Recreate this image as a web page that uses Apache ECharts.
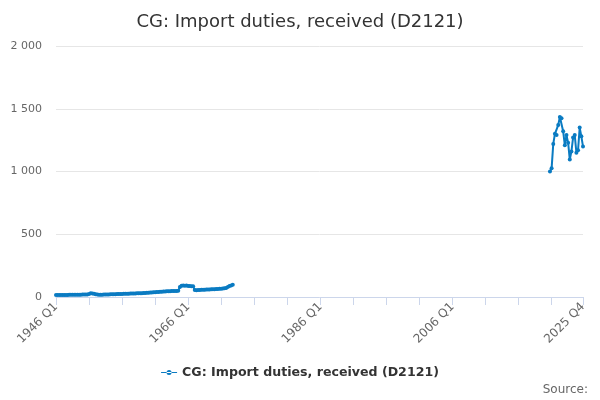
<!DOCTYPE html>
<html>
<head>
<meta charset="utf-8">
<script src="https://cdn.jsdelivr.net/npm/echarts@6/dist/echarts.min.js"></script>
<style>html,body{margin:0;padding:0;background:#fff}#c{width:600px;height:400px}</style>
</head>
<body>
<div id="c"></div>
<script>
const seriesName = 'CG: Import duties, received (D2121)';
const startYear = 1946, endYear = 2025;
// Early segment: 1946 Q1 .. 1972 Q4
const earlyValues = [
  15,15,15,15,16,16,16,16,17,17,17,17,18,18,18,18,19,19,20,20,
  24,30,28,26,
  22,20,18,18,18,19,19,20,
  20,21,21,22,22,23,23,24,24,25,25,26,26,27,27,28,
  28,29,29,30,30,31,32,33,34,35,36,37,38,39,40,41,
  42,43,44,45,46,46,47,47,48,48,49,
  80,90,92,90,92,88,88,86,86,
  55,54,55,56,57,58,58,59,60,60,61,62,62,63,64,65,
  66,68,70,72,80,88,92,98
];
// Late segment: 2020 Q4 .. 2025 Q4
const lateValues = [1000,1025,1220,1300,1290,1370,1435,1425,1320,1210,1290,1230,1095,1160,1270,1290,1150,1170,1350,1280,1200];
const lateStart = '2020 Q4';
const yTicks = [0, 500, 1000, 1500, 2000];

const categories = [];
for (let y = startYear; y <= endYear; y++) for (let q = 1; q <= 4; q++) categories.push(y + ' Q' + q);
const values = categories.map(() => null);
earlyValues.forEach((v, i) => values[i] = v);
const ls = categories.indexOf(lateStart);
lateValues.forEach((v, i) => values[ls + i] = v);
const lastIdx = categories.length - 1;

const chart = echarts.init(document.getElementById('c'), null, {renderer: 'canvas'});
const font = 'DejaVu Sans';
chart.setOption({
  animation: false,
  title: {
    text: seriesName, left: 'center', top: 8,
    textStyle: {fontFamily: font, fontSize: 18, fontWeight: 'normal', color: '#333'}
  },
  legend: {
    bottom: 16, left: 'center', itemWidth: 16, itemHeight: 8,
    icon: 'path://M0,3.5 L16,3.5 L16,4.5 L0,4.5 Z M5.5,4 A2.5,2.5 0 1 0 10.5,4 A2.5,2.5 0 1 0 5.5,4 Z',
    textStyle: {fontFamily: font, fontSize: 12.6, fontWeight: 'bold', color: '#333'}
  },
  graphic: [{
    type: 'text', right: 12, bottom: 4,
    style: {text: 'Source:', font: '12px ' + font, fill: '#666'}
  }],
  grid: {left: 56, right: 17, top: 46, bottom: 103},
  xAxis: {
    type: 'category', data: categories, boundaryGap: false,
    axisLine: {lineStyle: {color: '#ccd6eb'}},
    axisTick: {length: 8, lineStyle: {color: '#ccd6eb'}, interval: (i) => i % 20 === 0 || i === lastIdx},
    axisLabel: {
      rotate: 45, fontFamily: font, fontSize: 12, color: '#666', margin: 8,
      interval: (i) => i % 80 === 0 || i === lastIdx
    },
    splitLine: {show: false}
  },
  yAxis: {
    type: 'value', min: yTicks[0], max: yTicks[yTicks.length - 1], interval: 500,
    axisLine: {show: false}, axisTick: {show: false},
    axisLabel: {
      fontFamily: font, fontSize: 11, color: '#666', margin: 14,
      formatter: (v) => String(v).replace(/\B(?=(\d{3})+(?!\d))/g, ' ')
    },
    splitLine: {lineStyle: {color: '#e6e6e6'}}
  },
  series: [{
    name: seriesName, type: 'line', data: values, connectNulls: false,
    symbol: 'circle', symbolSize: 4, showSymbol: true, showAllSymbol: true,
    lineStyle: {width: 2, color: '#0a7bc2'},
    itemStyle: {color: '#0a7bc2'}
  }]
});
</script>
</body>
</html>
